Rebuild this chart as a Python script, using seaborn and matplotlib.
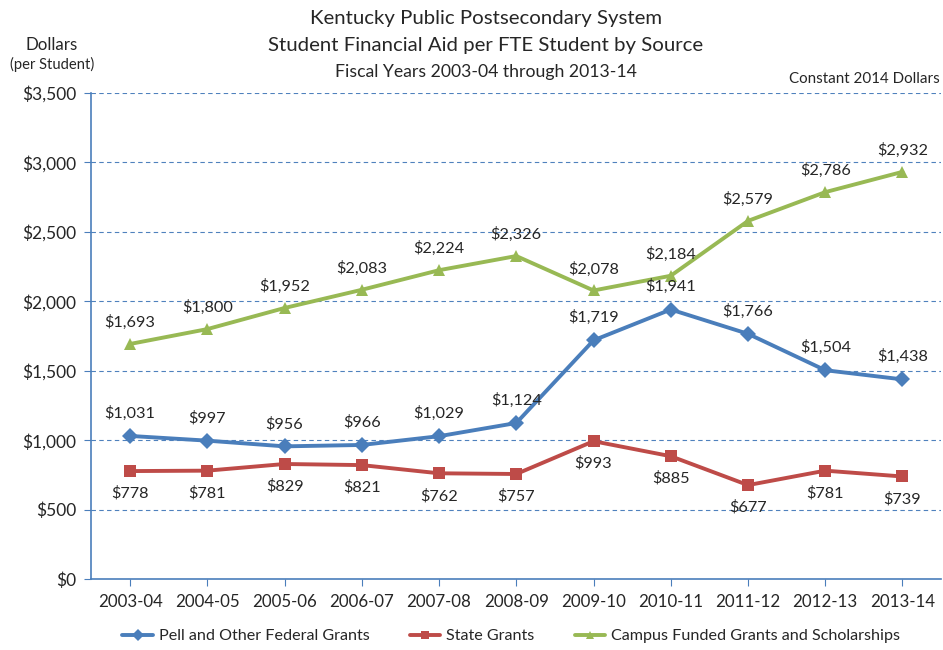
import matplotlib
matplotlib.use("Agg")
import matplotlib.pyplot as plt
import seaborn as sns
import pandas as pd

years = ["2003-04", "2004-05", "2005-06", "2006-07", "2007-08", "2008-09",
         "2009-10", "2010-11", "2011-12", "2012-13", "2013-14"]
pell = [1031, 997, 956, 966, 1029, 1124, 1719, 1941, 1766, 1504, 1438]
state = [778, 781, 829, 821, 762, 757, 993, 885, 677, 781, 739]
campus = [1693, 1800, 1952, 2083, 2224, 2326, 2078, 2184, 2579, 2786, 2932]

series_names = ["Pell and Other Federal Grants", "State Grants",
                "Campus Funded Grants and Scholarships"]
colors = ["#4A7EBB", "#BE4B48", "#98B954"]
markers = ["D", "s", "^"]

df = pd.DataFrame({"year": years * 3,
                   "x": list(range(len(years))) * 3,
                   "value": pell + state + campus,
                   "source": [n for n in series_names for _ in years]})

sns.set_style("white")
plt.rcParams['font.family'] = ['Lato', 'DejaVu Sans']

fig = plt.figure(figsize=(9.43, 6.5), dpi=100)
ax = fig.add_axes([0.097, 0.109, 0.901, 0.748])

sns.lineplot(data=df, x="x", y="value", hue="source", style="source",
             markers=markers, dashes=False, palette=colors, linewidth=2.8,
             markersize=8, markeredgewidth=0, ax=ax, legend=False)

# data labels
for vals, off in [(pell, 11), (state, -11), (campus, 10)]:
    for i, v in enumerate(vals):
        ax.annotate(f"${v:,}", (i, v), xytext=(0, off), textcoords="offset points",
                    ha="center", va="bottom" if off > 0 else "top", fontsize=11.7)

ax.set_xlim(-0.5, len(years) - 0.5)
ax.set_ylim(0, 3500)
ax.set_yticks(range(0, 3501, 500))
ax.set_yticklabels([f"${v:,}" for v in range(0, 3501, 500)], fontsize=12.5)
ax.set_xticks(range(len(years)))
ax.set_xticklabels(years, fontsize=12.2)
ax.set_xlabel("")
ax.set_ylabel("")
for y in range(500, 3501, 500):
    ax.axhline(y, color="#4F81BD", lw=0.8, ls=(0, (4, 3)), zorder=0)

for s in ["top", "right"]:
    ax.spines[s].set_visible(False)
for s in ["left", "bottom"]:
    ax.spines[s].set_color("#4A7EBB")
    ax.spines[s].set_linewidth(1.2)
ax.tick_params(axis="both", direction="out", length=5, color="#4A7EBB",
               left=True, bottom=True, pad=6)

fig.text(0.515, 0.972, "Kentucky Public Postsecondary System", ha="center", va="center", fontsize=14.7)
fig.text(0.515, 0.930, "Student Financial Aid per FTE Student by Source", ha="center", va="center", fontsize=14.7)
fig.text(0.515, 0.889, "Fiscal Years 2003-04 through 2013-14", ha="center", va="center", fontsize=12.7)
fig.text(0.055, 0.930, "Dollars", ha="center", va="center", fontsize=12.2)
fig.text(0.055, 0.901, "(per Student)", ha="center", va="center", fontsize=10.6)
fig.text(0.997, 0.878, "Constant 2014 Dollars", ha="right", va="center", fontsize=10.9)

handles = [plt.Line2D([], [], color=c, marker=m, lw=2.8, markersize=6, markeredgewidth=0)
           for c, m in zip(colors, markers)]
fig.legend(handles, series_names, loc="center", bbox_to_anchor=(0.542, 0.021), ncol=3,
           frameon=False, fontsize=11.6, handlelength=1.9, handletextpad=0.35,
           columnspacing=2.5)

fig.savefig("out.png", dpi=100)
